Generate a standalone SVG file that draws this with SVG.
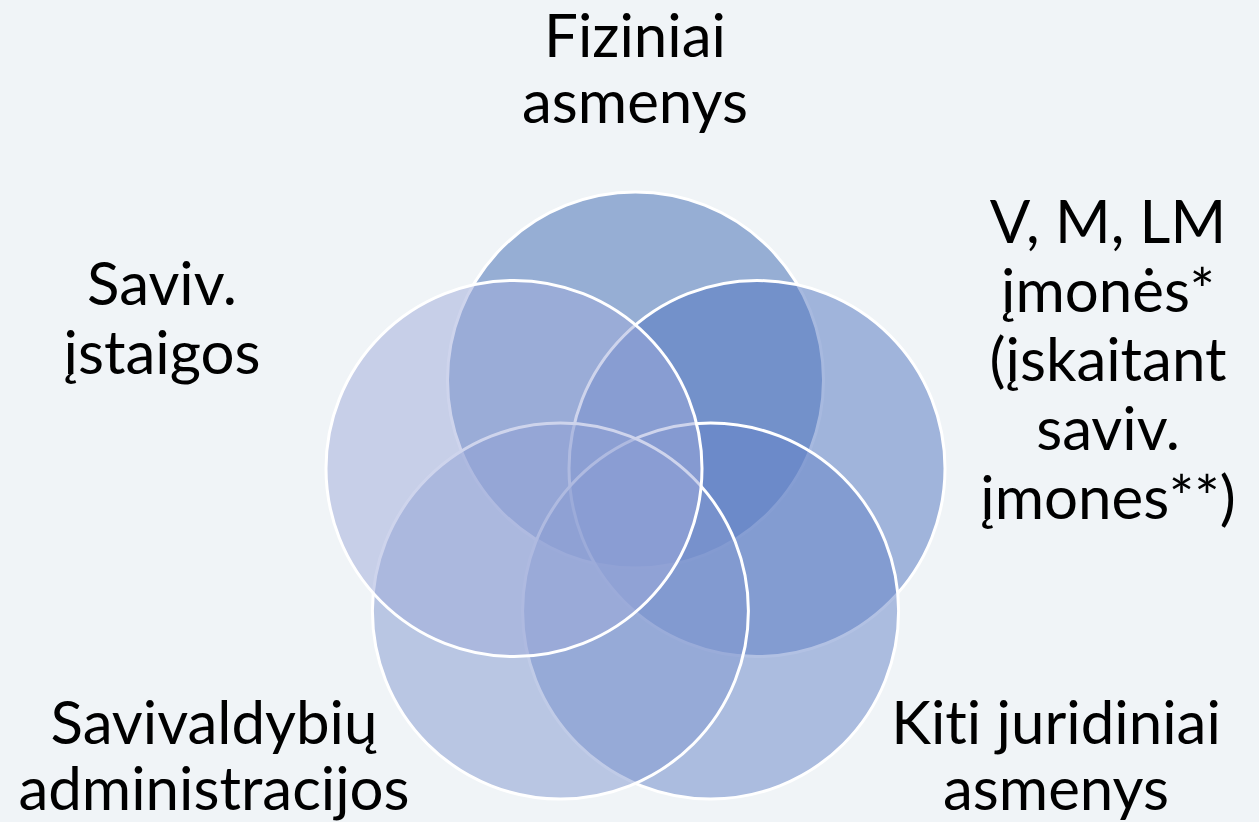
<svg xmlns="http://www.w3.org/2000/svg" width="1259" height="822" viewBox="0 0 1259 822">
<style>
.c{stroke:#FFFFFF;stroke-width:3}
.t{font-family:Lato,"Liberation Sans",sans-serif;font-size:60px;fill:#000000;text-anchor:middle;font-variant-ligatures:none;font-feature-settings:"liga" 0,"clig" 0}
</style>
<rect x="0" y="0" width="1259" height="822" fill="#F0F4F7"/>
<g id="circles">
<g id="c-top"><circle class="c" cx="635.5" cy="380" r="188" fill="rgb(60,104,177)" fill-opacity="0.5"/></g>
<g id="c-right"><circle class="c" cx="757" cy="468.5" r="188" fill="rgb(80,116,191)" fill-opacity="0.5"/></g>
<g id="c-bottom-right"><circle class="c" cx="710.6" cy="611" r="188" fill="rgb(102,132,199)" fill-opacity="0.5"/></g>
<g id="c-bottom-left"><circle class="c" cx="560.4" cy="611" r="188" fill="rgb(130,152,207)" fill-opacity="0.5"/></g>
<g id="c-left"><circle class="c" cx="514" cy="468.5" r="188" fill="rgb(158,170,217)" fill-opacity="0.5"/></g>
</g>
<g id="label-top"><text class="t" x="635" y="57">Fiziniai</text><text class="t" x="635" y="123">asmenys</text></g>
<g id="label-right"><text class="t" x="1108" y="243">V, M, LM</text><text class="t" x="1108" y="312">įmonės*</text><text class="t" x="1108" y="381">(įskaitant</text><text class="t" x="1108" y="450">saviv.</text><text class="t" x="1108" y="519">įmones**)</text></g>
<g id="label-left"><text class="t" x="162" y="305">Saviv.</text><text class="t" x="162" y="374">įstaigos</text></g>
<g id="label-bottom-left"><text class="t" x="214" y="744">Savivaldybių</text><text class="t" x="214" y="810">administracijos</text></g>
<g id="label-bottom-right"><text class="t" x="1056" y="744">Kiti juridiniai</text><text class="t" x="1056" y="810">asmenys</text></g>
</svg>
